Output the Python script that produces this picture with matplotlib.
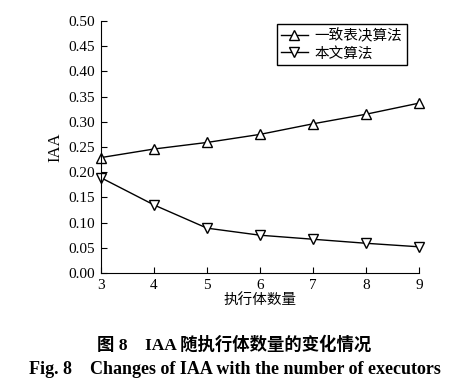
import matplotlib
matplotlib.use("Agg")
import matplotlib.pyplot as plt

executors = [3, 4, 5, 6, 7, 8, 9]
consensus = [0.229, 0.246, 0.259, 0.275, 0.296, 0.315, 0.337]
proposed = [0.189, 0.135, 0.089, 0.075, 0.067, 0.059, 0.052]
labels = ["一致表决算法", "本文算法"]
yticks = [0.00, 0.05, 0.10, 0.15, 0.20, 0.25, 0.30, 0.35, 0.40, 0.45, 0.50]

serif = ["Liberation Serif", "DejaVu Serif"]
cjk = ["Liberation Serif", "Noto Sans CJK SC", "DejaVu Sans"]

fig = plt.figure(figsize=(4.69, 3.86), dpi=100)
ax = fig.add_axes([0.2154, 0.2927, 0.678, 0.653])
ax.plot(executors, consensus, color="black", lw=1.0, marker="^", ms=7.5,
        mfc="white", mec="black", mew=1.0, label=labels[0], clip_on=False)
ax.plot(executors, proposed, color="black", lw=1.0, marker="v", ms=7.5,
        mfc="white", mec="black", mew=1.0, label=labels[1], clip_on=False)
ax.set_xlim(3, 9)
ax.set_ylim(0, 0.5)
ax.set_xticks(executors)
ax.set_yticks(yticks)
ax.set_yticklabels([f"{v:.2f}" for v in yticks], family=serif, fontsize=11)
ax.set_xticklabels([str(v) for v in executors], family=serif, fontsize=11)
ax.tick_params(direction="in", length=4, width=0.8, pad=4)
for s in ["top", "right"]:
    ax.spines[s].set_visible(False)
ax.set_ylabel("IAA", family=serif, fontsize=12, labelpad=4)
ax.set_xlabel("执行体数量", family=cjk, fontsize=10.5, labelpad=1)
leg = ax.legend(loc="upper right", bbox_to_anchor=(0.962, 0.988), borderaxespad=0,
                prop={"family": cjk, "size": 10.5}, markerscale=1.0,
                fancybox=False, edgecolor="black", handlelength=1.8, borderpad=0.3,
                labelspacing=0.25, handletextpad=0.5, framealpha=1)
leg.get_frame().set_linewidth(1.0)

fig.text(0.5, 1 - 345 / 386, "图 8    IAA 随执行体数量的变化情况", ha="center", va="center",
         family=cjk, fontsize=12.5, fontweight="bold")
fig.text(0.5, 1 - 370 / 386, "Fig. 8    Changes of IAA with the number of executors", ha="center",
         va="center", family=serif, fontsize=13, fontweight="bold")
fig.savefig("out.png", dpi=100)
